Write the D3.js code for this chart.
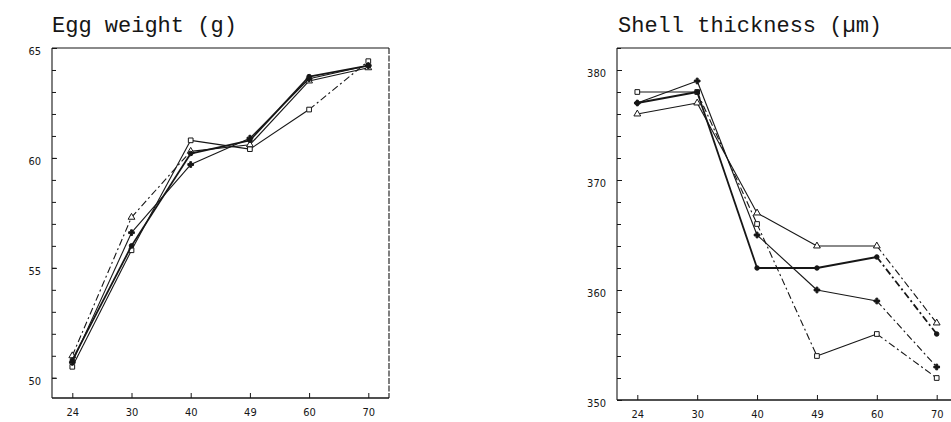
<!DOCTYPE html>
<html>
<head>
<meta charset="utf-8">
<script src="https://cdn.jsdelivr.net/npm/d3@7"></script>
<style>
  html, body { margin: 0; padding: 0; background: #fff; }
  svg { display: block; }
</style>
</head>
<body>
<svg id="chart" width="951" height="422"></svg>
<script>
// ---------- DATA ----------
const ages = ["24", "30", "40", "49", "60", "70"];

// Egg weight (g)
const eggDot      = [50.8, 56.0, 60.2, 60.8, 63.7, 64.2];
const eggTriangle = [51.0, 57.3, 60.3, 60.6, 63.5, 64.1];
const eggPlus     = [50.7, 56.6, 59.7, 60.9, 63.6, 64.2];
const eggSquare   = [50.5, 55.8, 60.8, 60.4, 62.2, 64.4];
const eggTicks    = [50, 55, 60, 65];

// Shell thickness (µm)
const shellDot      = [377, 378, 362, 362, 363, 356];
const shellTriangle = [376, 377, 367, 364, 364, 357];
const shellPlus     = [377, 379, 365, 360, 359, 353];
const shellSquare   = [378, 378, 366, 354, 356, 352];
const shellTicks    = [350, 360, 370, 380];

// ---------- DRAWING ----------
const svg = d3.select("#chart");
const ink = "#161616";
const dashDot = "7,3,2,3";

function drawPanel(cfg) {
  const g = svg.append("g");
  const x = d3.scalePoint().domain(ages).range(cfg.xRange);
  const y = d3.scaleLinear().domain(cfg.yDomain).range(cfg.yRange);

  // title
  g.append("text")
    .attr("x", cfg.titleX).attr("y", 32)
    .attr("font-family", "Liberation Mono, DejaVu Sans Mono, monospace")
    .attr("font-size", 22).attr("fill", ink)
    .text(cfg.title);

  // frame
  const [L, R] = cfg.frameX, [B, T] = cfg.yRange;
  g.append("line").attr("x1", L).attr("x2", R).attr("y1", T).attr("y2", T)
    .attr("stroke", ink).attr("stroke-width", 1.1);
  if (cfg.rightBorder) {
    g.append("line").attr("x1", R).attr("x2", R).attr("y1", T).attr("y2", B)
      .attr("stroke", ink).attr("stroke-width", 1.1).attr("stroke-dasharray", "6,1.5");
  }
  g.append("line").attr("x1", L).attr("x2", R).attr("y1", B).attr("y2", B)
    .attr("stroke", ink).attr("stroke-width", 1.3);
  g.append("line").attr("x1", L).attr("x2", L).attr("y1", T).attr("y2", B)
    .attr("stroke", ink).attr("stroke-width", 1.1);

  // y axis: minor ticks inward
  const minor = d3.range(Math.ceil(cfg.yDomain[0]), cfg.yDomain[1] + 0.001, cfg.minorStep);
  const yMinor = d3.axisLeft(y).tickValues(minor).tickSize(-4).tickFormat("");
  g.append("g").attr("transform", `translate(${L},0)`).call(yMinor)
    .call(a => a.select(".domain").remove())
    .call(a => a.selectAll("line").attr("stroke", ink));
  const yMajor = d3.axisLeft(y).tickValues(cfg.yTicks).tickSize(-5).tickPadding(11).tickFormat(d3.format("d"));
  g.append("g").attr("transform", `translate(${L},0)`).call(yMajor)
    .call(a => a.select(".domain").remove())
    .call(a => a.selectAll("line").attr("stroke", ink))
    .call(a => a.selectAll("text").attr("font-family", "DejaVu Sans Condensed, DejaVu Sans, sans-serif")
      .attr("font-size", 11).attr("fill", ink).attr("dy", "0.62em"));

  // x axis: ticks inward
  const xAxis = d3.axisBottom(x).tickSize(-5).tickPadding(12);
  g.append("g").attr("transform", `translate(0,${B})`).call(xAxis)
    .call(a => a.select(".domain").remove())
    .call(a => a.selectAll("line").attr("stroke", ink))
    .call(a => a.selectAll("text").attr("font-family", "DejaVu Sans Condensed, DejaVu Sans, sans-serif")
      .attr("font-size", 11).attr("fill", ink).attr("dy", "0.5em"));

  // series
  cfg.series.forEach(s => {
    s.values.forEach((v, i) => {
      if (i === 0) return;
      const dashed = s.dashSegs.includes(i);
      g.append("line")
        .attr("x1", x(ages[i - 1])).attr("y1", y(s.values[i - 1]))
        .attr("x2", x(ages[i])).attr("y2", y(v))
        .attr("stroke", ink)
        .attr("stroke-width", s.width)
        .attr("stroke-dasharray", dashed ? dashDot : null);
    });
    const sym = d3.symbol().type(s.symbol).size(s.size);
    g.selectAll(null).data(s.values).enter().append("path")
      .attr("d", sym)
      .attr("transform", (d, i) => `translate(${x(ages[i])},${y(d)})`)
      .attr("fill", s.filled ? ink : "#fff")
      .attr("stroke", ink).attr("stroke-width", 1);
  });
}

drawPanel({
  title: "Egg weight (g)", titleX: 52,
  xRange: [72.3, 368.3], frameX: [52, 389], rightBorder: true,
  yDomain: [49.08, 65], yRange: [398, 48], yTicks: eggTicks, minorStep: 1,
  series: [
    { values: eggSquare,   symbol: d3.symbolSquare,   size: 22, filled: false, width: 1.1, dashSegs: [5] },
    { values: eggTriangle, symbol: d3.symbolTriangle, size: 20, filled: false, width: 1.1, dashSegs: [1, 2] },
    { values: eggPlus,     symbol: d3.symbolCross,    size: 18, filled: true,  width: 1.1, dashSegs: [] },
    { values: eggDot,      symbol: d3.symbolCircle,   size: 16, filled: true,  width: 1.8, dashSegs: [] }
  ]
});

drawPanel({
  title: "Shell thickness (\u00b5m)", titleX: 618,
  xRange: [637.3, 936.7], frameX: [617, 951], rightBorder: false,
  yDomain: [350, 382], yRange: [400, 48], yTicks: shellTicks, minorStep: 2,
  series: [
    { values: shellSquare,   symbol: d3.symbolSquare,   size: 22, filled: false, width: 1.1, dashSegs: [2, 3, 5] },
    { values: shellTriangle, symbol: d3.symbolTriangle, size: 20, filled: false, width: 1.1, dashSegs: [5] },
    { values: shellPlus,     symbol: d3.symbolCross,    size: 18, filled: true,  width: 1.1, dashSegs: [5] },
    { values: shellDot,      symbol: d3.symbolCircle,   size: 16, filled: true,  width: 1.8, dashSegs: [5] }
  ]
});
</script>
</body>
</html>
